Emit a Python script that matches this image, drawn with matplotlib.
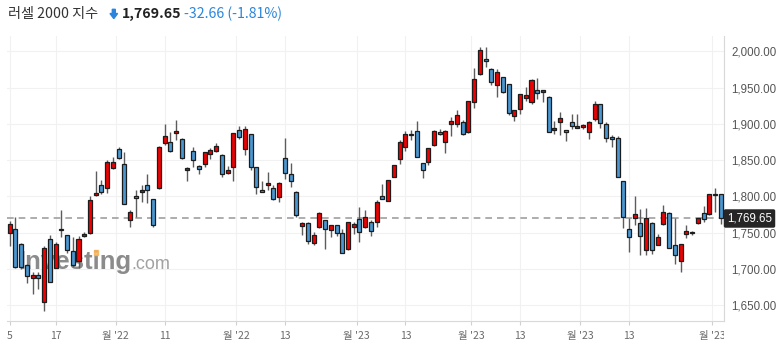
import numpy as np
import matplotlib
matplotlib.use('Agg')
import matplotlib.pyplot as plt
from matplotlib.patches import Polygon, Rectangle
from matplotlib.transforms import Bbox, TransformedBbox, blended_transform_factory

plt.rcParams['font.family'] = ['Noto Sans CJK KR', 'DejaVu Sans']

# daily candles, Russell 2000
opens = [1749.2, 1755.2, 1734.0, 1705.6, 1687.7, 1692.2, 1654.1, 1740.9, 1701.9, 1755.6,
         1746.4, 1725.3, 1711.5, 1745.1, 1749.2, 1801.6, 1815.3, 1811.2, 1839.6, 1865.4,
         1844.7, 1767.6, 1800.6, 1806.2, 1815.4, 1796.1, 1811.2, 1873.2, 1875.5, 1887.0,
         1879.2, 1836.0, 1862.2, 1842.0, 1844.7, 1858.5, 1863.1, 1857.1, 1832.3, 1840.2,
         1892.0, 1865.0, 1885.6, 1840.6, 1808.4, 1815.3, 1811.6, 1798.8, 1852.5, 1830.9,
         1806.6, 1759.3, 1763.0, 1735.4, 1758.3, 1767.1, 1753.3, 1760.2, 1749.2, 1727.1,
         1758.3, 1768.4, 1757.9, 1765.2, 1764.3, 1800.1, 1793.7, 1827.2, 1851.1, 1868.6,
         1886.5, 1890.6, 1845.6, 1847.9, 1870.9, 1888.4, 1874.6, 1900.3, 1900.5, 1902.6,
         1889.3, 1929.9, 1968.5, 1989.7, 1976.3, 1953.6, 1964.4, 1954.7, 1911.4, 1920.5,
         1935.2, 1930.6, 1946.7, 1943.9, 1937.5, 1891.5, 1903.0, 1891.5, 1902.1, 1894.3,
         1895.7, 1889.2, 1906.7, 1927.4, 1899.3, 1881.4, 1880.1, 1821.3, 1755.1, 1769.9,
         1763.0, 1726.3, 1763.9, 1733.1, 1761.6, 1776.8, 1733.1, 1711.1, 1747.8, 1749.2,
         1763.0, 1777.7, 1775.4, 1803.9, 1803.0]
highs = [1766.2, 1771.2, 1735.5, 1707.0, 1696.0, 1696.0, 1731.8, 1746.9, 1737.7, 1781.3,
         1747.0, 1744.6, 1745.5, 1751.5, 1800.6, 1835.5, 1823.0, 1850.2, 1854.8, 1868.6,
         1860.8, 1781.0, 1808.9, 1815.4, 1830.9, 1797.0, 1869.0, 1899.8, 1889.2, 1905.3,
         1880.0, 1840.0, 1868.6, 1843.0, 1861.5, 1866.8, 1873.6, 1858.0, 1842.0, 1888.0,
         1897.1, 1896.6, 1886.0, 1841.0, 1821.7, 1833.2, 1815.8, 1819.5, 1881.0, 1845.6,
         1807.0, 1765.2, 1765.0, 1750.5, 1779.0, 1768.0, 1761.0, 1761.0, 1754.7, 1765.5,
         1764.3, 1785.0, 1781.3, 1767.5, 1795.1, 1816.7, 1822.5, 1843.5, 1877.3, 1890.6,
         1891.5, 1904.4, 1846.0, 1867.0, 1891.0, 1893.0, 1891.0, 1909.1, 1919.1, 1905.3,
         1932.0, 1977.0, 2005.5, 2006.0, 1976.5, 1975.2, 1965.0, 1955.0, 1918.7, 1941.2,
         1951.3, 1961.4, 1962.7, 1946.9, 1938.0, 1903.9, 1915.9, 1892.0, 1914.0, 1913.1,
         1899.3, 1904.0, 1931.5, 1928.0, 1902.1, 1884.6, 1883.7, 1821.5, 1769.8, 1801.1,
         1782.8, 1783.7, 1764.5, 1747.8, 1788.3, 1778.0, 1769.9, 1734.6, 1760.7, 1753.0,
         1771.0, 1787.3, 1803.2, 1812.1, 1803.5]
lows = [1731.7, 1701.0, 1700.5, 1680.3, 1665.6, 1672.0, 1642.2, 1682.0, 1701.0, 1744.6,
        1721.6, 1703.3, 1701.0, 1744.6, 1748.0, 1801.0, 1804.0, 1805.2, 1838.0, 1851.0,
        1789.0, 1758.3, 1771.3, 1792.8, 1791.4, 1758.0, 1810.0, 1871.0, 1861.0, 1877.8,
        1851.0, 1821.7, 1841.0, 1830.5, 1840.0, 1852.0, 1861.0, 1827.0, 1831.0, 1821.3,
        1879.6, 1857.1, 1836.0, 1803.0, 1805.5, 1809.3, 1795.0, 1791.9, 1824.0, 1813.5,
        1771.2, 1746.9, 1734.0, 1733.0, 1756.0, 1727.1, 1744.6, 1745.9, 1722.0, 1726.5,
        1747.8, 1737.7, 1756.0, 1745.5, 1758.3, 1796.5, 1793.5, 1827.0, 1844.2, 1863.1,
        1877.8, 1854.5, 1825.9, 1843.0, 1869.0, 1884.7, 1859.5, 1883.3, 1896.1, 1884.5,
        1888.0, 1922.0, 1968.0, 1977.8, 1953.6, 1936.6, 1942.0, 1912.5, 1904.0, 1913.2,
        1931.6, 1928.0, 1933.8, 1929.7, 1889.0, 1885.6, 1884.6, 1876.4, 1892.9, 1894.0,
        1893.0, 1879.1, 1903.9, 1893.8, 1875.5, 1868.6, 1827.0, 1757.0, 1723.9, 1760.7,
        1719.4, 1719.4, 1720.3, 1732.5, 1761.0, 1729.0, 1706.5, 1696.4, 1742.4, 1747.5,
        1762.0, 1765.3, 1775.0, 1779.1, 1761.6]
closes = [1761.6, 1702.4, 1702.4, 1690.9, 1692.2, 1687.7, 1728.5, 1682.6, 1734.0, 1753.3,
          1726.2, 1705.6, 1741.9, 1748.3, 1795.1, 1804.3, 1806.2, 1847.0, 1847.1, 1852.6,
          1789.2, 1779.0, 1797.5, 1808.5, 1808.5, 1760.7, 1868.6, 1882.9, 1862.2, 1889.8,
          1853.4, 1839.2, 1850.2, 1837.4, 1860.8, 1863.6, 1869.1, 1830.9, 1836.4, 1887.0,
          1882.3, 1893.0, 1841.0, 1812.6, 1806.1, 1818.0, 1796.0, 1819.0, 1832.3, 1821.3,
          1774.4, 1763.0, 1738.6, 1746.9, 1776.7, 1754.7, 1760.2, 1749.2, 1722.5, 1765.2,
          1761.6, 1750.5, 1771.2, 1752.8, 1792.8, 1796.9, 1822.2, 1843.3, 1875.5, 1886.5,
          1884.6, 1854.8, 1836.0, 1866.3, 1890.5, 1886.1, 1890.5, 1903.3, 1911.8, 1885.9,
          1931.6, 1961.4, 2001.8, 1986.0, 1958.2, 1972.0, 1943.5, 1915.0, 1918.7, 1941.2,
          1939.8, 1961.0, 1942.5, 1946.7, 1889.2, 1894.3, 1907.6, 1889.2, 1896.6, 1897.0,
          1898.4, 1903.0, 1927.4, 1900.7, 1880.1, 1879.1, 1827.2, 1772.1, 1743.6, 1776.3,
          1745.5, 1769.9, 1726.3, 1744.6, 1778.2, 1729.5, 1719.4, 1734.5, 1752.4, 1751.5,
          1770.8, 1768.5, 1803.0, 1802.3, 1769.65]

tick_pos = [0, 8, 18.5, 27, 39.5, 48, 60.5, 69, 80.5, 89, 99.5, 108, 122.5]
tick_labels = ['5', '17', "월 '22", '11', "월 '22", '13', "월 '23", '13', "월 '23", '13',
               "월 '23", '13', "월 '23"]
y_ticks = [1650, 1700, 1750, 1800, 1850, 1900, 1950, 2000]
last_price = 1769.65

W, H = 784, 354
fig = plt.figure(figsize=(W / 100, H / 100), dpi=100)
ax = fig.add_axes([7 / W, 1 - 321 / H, (724 - 7) / W, (321 - 36) / H])


def px(x, y):
    return x / W, 1 - y / H


o = np.array(opens)
hi = np.array(highs)
lo = np.array(lows)
c = np.array(closes)
x = np.arange(len(o))
up = c >= o
colors = np.where(up, '#f00000', '#4a97d2')

ax.vlines(x, lo, hi, color='#5c5c5c', lw=1, zorder=3)
ax.bar(x, np.maximum(np.abs(c - o), 1.5), bottom=np.minimum(o, c), width=0.7,
       color=colors, edgecolor='#1c1c1c', linewidth=0.9, zorder=4)

ax.axhline(last_price, color='#a0a0a0', lw=1.2, ls=(0, (4, 3)), zorder=2)

ax.set_xlim(-0.47, 124.57)
ax.set_ylim(1628.4, 2021.1)
ax.set_yticks(y_ticks)
ax.set_yticklabels([f'{v:,.2f}' for v in y_ticks], family='Liberation Sans')
ax.yaxis.tick_right()
ax.tick_params(axis='y', length=0, pad=5, labelsize=8.3, labelcolor='#555555')
ax.set_xticks(tick_pos)
ax.set_xticklabels(tick_labels)
ax.tick_params(axis='x', length=3, color='#d0d0d0', pad=4, labelsize=7.5, labelcolor='#6a6a6a')
ax.grid(color='#f1f1f1', lw=0.8)
ax.set_axisbelow(True)
for s in ['top', 'left']:
    ax.spines[s].set_visible(False)
for s in ['bottom', 'right']:
    ax.spines[s].set_color('#d8d8d8')

clip = TransformedBbox(Bbox.from_extents(0, 0, 724 / W, 1), fig.transFigure)
for lbl in ax.get_xticklabels():
    lbl.set_clip_box(clip)
    lbl.set_clip_on(True)

# last price tag
tr = blended_transform_factory(ax.transAxes, ax.transData)
ax.annotate(f'{last_price:,.2f}', xy=(1, last_price), xycoords=tr, xytext=(3, 0),
            textcoords='offset pixels', ha='left', va='center', color='white',
            fontsize=8.3, family='Liberation Sans', annotation_clip=False,
            bbox=dict(boxstyle='round,pad=0.28,rounding_size=0.15', fc='#262626', ec='none'))

# watermark
ax.text(*px(18, 269), 'Investing', transform=fig.transFigure, family='Liberation Sans',
        weight='bold', fontsize=18.5, color='#6e6e6e', alpha=0.8, va='baseline', zorder=1)
ax.text(*px(131, 269), '.com', transform=fig.transFigure, family='Liberation Sans',
        fontsize=13, color='#8a8a8a', alpha=0.8, va='baseline', zorder=1)
ax.add_patch(Rectangle(px(94, 255), 4 / W, 5 / H, transform=fig.transFigure,
                       color='#f7b35a', alpha=0.85, zorder=1, clip_on=False))

# header
fig.text(*px(8, 14), '러셀 2000 지수', fontsize=10.2, color='#333333', va='center')
arrow = [(112.3, 9.3), (115.3, 9.3), (115.3, 13.5), (117.6, 13.5), (113.8, 18.6),
         (110.0, 13.5), (112.3, 13.5)]
fig.patches.append(Polygon([px(a, b) for a, b in arrow], closed=True, transform=fig.transFigure,
                           color='#2a86dc', figure=fig))
fig.text(*px(122, 14), '1,769.65', fontsize=10.2, weight='bold', color='#222222', va='center')
fig.text(*px(184, 14), '-32.66 (-1.81%)', fontsize=10.2, color='#2a86dc', va='center')

fig.savefig('out.png', dpi=100)
